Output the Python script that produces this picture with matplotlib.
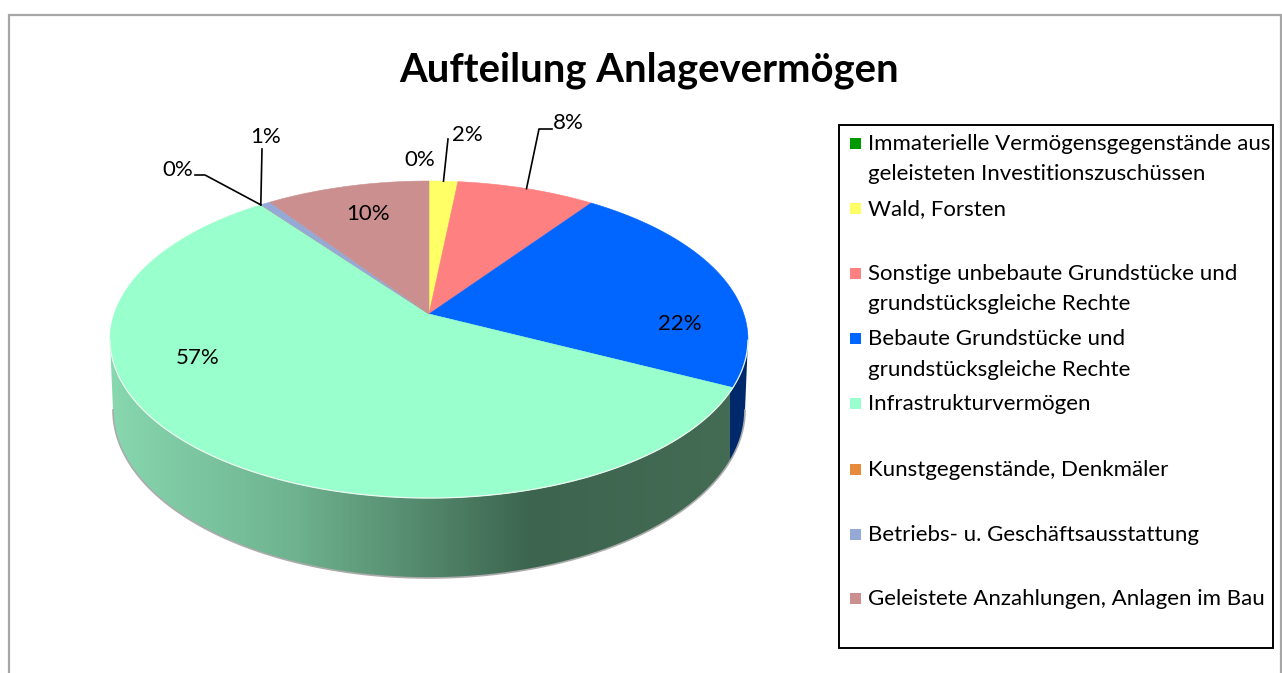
import numpy as np
import matplotlib
matplotlib.use('Agg')
import matplotlib.pyplot as plt
from matplotlib.colors import LinearSegmentedColormap
from matplotlib.patches import Polygon, Rectangle

plt.rcParams['font.family'] = ['Lato', 'DejaVu Sans']

# Data (percent, going clockwise from 12 o'clock)
categories = ['Immaterielle Vermögensgegenstände aus\ngeleisteten Investitionszuschüssen',
              'Wald, Forsten',
              'Sonstige unbebaute Grundstücke und\ngrundstücksgleiche Rechte',
              'Bebaute Grundstücke und\ngrundstücksgleiche Rechte',
              'Infrastrukturvermögen',
              'Kunstgegenstände, Denkmäler',
              'Betriebs- u. Geschäftsausstattung',
              'Geleistete Anzahlungen, Anlagen im Bau']
values = [0.0, 1.7, 8.2, 22.4, 57.4, 0.0, 0.6, 9.7]
colors = ['#009900', '#FFFF66', '#FF8080', '#0066FF', '#99FFCC', '#E68A3C', '#95A9D6', '#CC8F8F']
title = 'Aufteilung Anlagevermögen'

# Layout, all in pixels of the 1282x673 picture
cx, cy = 429, 314
a, b, k = 314.8, 154.4, 0.161
bottom_cy, bottom_rx, bottom_ry = 410, 316, 168
label_pos = [(420, 160), (467, 135), (568, 123), (680, 324), (198, 358), (178, 170), (266, 137), (368, 214)]
# leader lines: index of slice, then the elbow points out from the rim
leaders = {1: [(448, 139)],
           2: [(539, 129), (552, 129)],
           5: [(205, 175), (195, 175)],
           6: [(262, 149)]}
legend_y = [144, 209, 274, 339, 404, 470, 535, 599]


def project(pct):
    # circle in the pie plane to the picture, with a little perspective
    t = np.radians(np.asarray(pct, dtype=float) * 3.6)
    u, v = np.sin(t), np.cos(t)
    w = 1 + k * v
    return cx + a * u / w, cy - b * v / w


fig = plt.figure(figsize=(12.82, 6.73), dpi=100)
ax = fig.add_axes([0, 0, 1, 1])
ax.set_axis_off()

# outer chart frame runs off the picture on the right and bottom
ax.add_patch(Rectangle((9, 15), 1272, 700, fc='white', ec='#A6A6A6', lw=1.6, zorder=0))

# side wall
ring = np.linspace(0, 100, 721)
rx_top, ry_top = project(ring)
i_right, i_left = np.argmax(rx_top), np.argmin(rx_top)
front = np.arange(i_right, i_left + 1)
s = np.linspace(0, np.pi, 300)
bx = cx + bottom_rx * np.cos(s)
by = bottom_cy + bottom_ry * np.sin(s)
wall = np.column_stack([np.r_[rx_top[front][::-1], bx], np.r_[ry_top[front][::-1], by]])

cmap = LinearSegmentedColormap.from_list('wall', [(0, '#87D7AF'), (0.3, '#6EB28F'), (0.68, '#3C644E'), (1, '#446C55')])
xs = np.arange(105, 755)
rgb = cmap(np.clip((xs - 110) / 620, 0, 1))[:, :3]
blue_edge = project(sum(values[:4]))[0]
rgb[xs > blue_edge - 3] = matplotlib.colors.to_rgb('#00296B')
im = ax.imshow(rgb[np.newaxis, :, :], extent=[105, 755, 600, 300], aspect='auto', zorder=1)
wall_patch = Polygon(wall, closed=True, fc='none', ec='none', transform=ax.transData)
ax.add_patch(wall_patch)
im.set_clip_path(wall_patch)
ax.plot(bx, by, color='#ABABAB', lw=1.2, zorder=2)

# top face
start = 0.0
for val, col in zip(values, colors):
    pct = np.linspace(start, start + val, 200)
    px, py = project(pct)
    ax.add_patch(Polygon(np.column_stack([np.r_[cx, px], np.r_[cy, py]]), closed=True,
                         fc=col, ec=col, lw=0.4, zorder=3))
    start += val
ax.plot(rx_top[front], ry_top[front], color='#EAF7F0', lw=0.9, zorder=3)

# data labels
cum = np.cumsum(values)
for i, (val, pos) in enumerate(zip(values, label_pos)):
    ax.text(pos[0], pos[1], f'{val:.0f}%', ha='center', va='center', fontsize=16, color='black', zorder=5)
    if i in leaders:
        # the thin 1% slice has its line at the near edge, not the middle
        rim = cum[i] - val if i == 6 else cum[i] - val / 2
        mx, my = project(rim)
        pts = [(mx, my)] + leaders[i]
        ax.plot([p[0] for p in pts], [p[1] for p in pts], color='black', lw=1.2, zorder=4)

ax.text(649, 70, title, ha='center', va='center', fontsize=28.8, fontweight='bold', color='black')

# legend
ax.add_patch(Rectangle((839, 125), 434, 523, fc='white', ec='black', lw=1.4, zorder=4))
for lab, col, y in zip(categories, colors, legend_y):
    ax.add_patch(Rectangle((850, y - 6.5), 11, 11, fc=col, ec='none', zorder=5))
    for j, line in enumerate(lab.split('\n')):
        ax.text(868, y + j * 30.5, line, ha='left', va='center', fontsize=16, color='black', zorder=5)

ax.set_xlim(0, 1282)
ax.set_ylim(673, 0)
fig.savefig('out.png', dpi=100)
